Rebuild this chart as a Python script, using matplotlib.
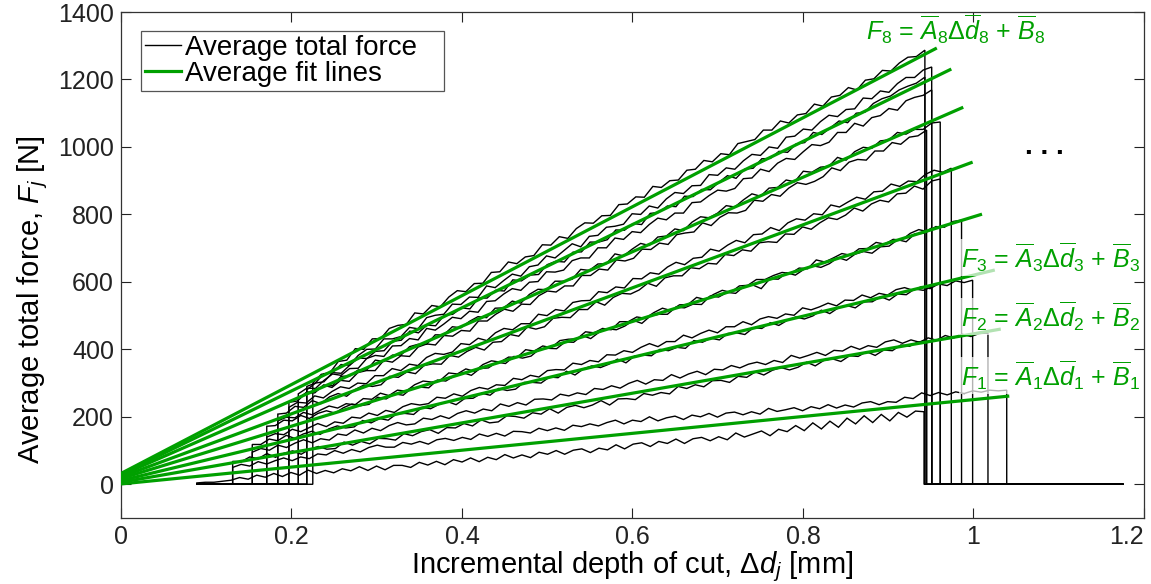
import numpy as np
import matplotlib
matplotlib.use("Agg")
import matplotlib.pyplot as plt
from matplotlib.ticker import FuncFormatter

plt.rcParams['font.family'] = ['Liberation Sans', 'DejaVu Sans']
plt.rcParams['mathtext.fontset'] = 'custom'
plt.rcParams['mathtext.rm'] = 'Liberation Sans'
plt.rcParams['mathtext.it'] = 'Liberation Sans:italic'
plt.rcParams['mathtext.bf'] = 'Liberation Sans:bold'

# ---------------------------------------------------------------- data
# recording window of the averaged force signal (mm)
record_start_mm = 0.089
record_end_mm = 1.175

# averaged total force per pass [N], sampled evenly between contact start and end
force_1b = [4, 6, 6, 9, 12, 20, 15, 27, 21, 32,
            23, 35, 27, 42, 32, 41, 34, 46, 40, 52,
            41, 54, 43, 56, 56, 50, 65, 57, 68, 58,
            73, 66, 78, 67, 80, 73, 88, 78, 87, 79,
            95, 89, 100, 89, 101, 105, 94, 107, 102, 117,
            105, 119, 123, 112, 127, 121, 134, 121, 135, 139,
            129, 141, 132, 152, 140, 149, 158, 144, 163, 156,
            174, 159, 182, 164, 187, 169, 196, 179, 203, 183,
            207, 188, 213, 199, 217, 215]
force_1a = [50, 59, 54, 67, 60, 70, 78, 70, 81, 76,
            90, 87, 100, 92, 103, 96, 109, 116, 110, 110,
            124, 119, 127, 119, 132, 136, 130, 139, 133, 149,
            142, 151, 143, 157, 156, 152, 166, 159, 167, 160,
            175, 171, 179, 173, 183, 190, 179, 190, 186, 200,
            188, 197, 202, 192, 205, 200, 210, 199, 211, 214,
            206, 215, 208, 225, 216, 221, 227, 218, 230, 224,
            236, 226, 235, 229, 241, 245, 236, 245, 243, 258,
            254, 271, 263, 272, 265, 274, 269, 277, 273, 279,
            277, 279]
force_2b = [68, 67, 81, 76, 91, 80, 92, 99, 89, 104,
            112, 104, 106, 125, 116, 127, 120, 136, 135, 131,
            150, 144, 156, 162, 151, 168, 167, 180, 173, 191,
            182, 185, 203, 201, 196, 212, 208, 224, 211, 228,
            234, 227, 235, 248, 235, 253, 254, 251, 269, 264,
            272, 268, 290, 284, 295, 289, 307, 308, 302, 320,
            317, 333, 324, 338, 346, 339, 347, 362, 351, 367,
            372, 364, 381, 379, 393, 382, 398, 396, 413, 409,
            422, 425]
force_2a = [95, 106, 101, 116, 109, 122, 132, 123, 135, 131,
            149, 145, 161, 152, 166, 159, 174, 183, 176, 179,
            196, 192, 203, 195, 210, 218, 211, 223, 218, 238,
            231, 242, 235, 252, 253, 250, 267, 262, 271, 266,
            284, 281, 292, 285, 299, 308, 297, 310, 308, 325,
            315, 327, 335, 325, 341, 339, 352, 345, 356, 362,
            355, 367, 361, 382, 374, 382, 391, 382, 397, 395,
            409, 400, 411, 406, 422, 428, 418, 428, 421, 434,
            427, 441, 434, 445, 438, 447, 448]
force_3b = [118, 118, 134, 129, 145, 136, 149, 157, 148, 164,
            173, 167, 170, 189, 182, 195, 190, 209, 210, 207,
            228, 224, 237, 245, 236, 254, 255, 270, 264, 284,
            278, 282, 302, 302, 300, 318, 316, 335, 324, 342,
            351, 346, 356, 371, 360, 380, 383, 381, 400, 396,
            406, 403, 426, 421, 433, 428, 447, 449, 444, 464,
            462, 479, 471, 486, 496, 490, 499, 516, 506, 523,
            530, 523, 541, 541, 556, 546, 564, 562, 579, 575,
            585]
force_3a = [140, 150, 147, 163, 156, 168, 180, 171, 185, 181,
            199, 196, 211, 204, 219, 213, 230, 239, 235, 239,
            258, 255, 268, 261, 278, 287, 282, 295, 293, 314,
            310, 323, 318, 337, 340, 339, 359, 355, 367, 363,
            384, 383, 396, 391, 406, 417, 408, 423, 423, 442,
            434, 447, 457, 449, 467, 467, 482, 473, 490, 497,
            492, 505, 501, 523, 517, 526, 537, 529, 546, 545,
            561, 553, 566, 561, 577, 583, 575, 586, 580, 594,
            589, 603, 598, 605]
force_4b = [172, 174, 190, 188, 204, 195, 210, 218, 211, 227,
            238, 233, 237, 258, 253, 268, 264, 285, 288, 286,
            309, 306, 321, 331, 323, 343, 345, 362, 358, 379,
            374, 380, 401, 403, 402, 422, 421, 441, 432, 451,
            461, 458, 469, 486, 477, 499, 504, 504, 525, 523,
            534, 533, 558, 555, 569, 566, 587, 591, 580, 609,
            608, 627, 620, 637, 648, 643, 654, 672, 664, 682,
            690, 685, 704, 706, 725, 719, 742, 744, 760]
force_4a = [188, 199, 197, 213, 206, 220, 232, 226, 239, 235,
            254, 252, 270, 263, 279, 276, 295, 306, 303, 308,
            330, 327, 342, 335, 355, 366, 362, 377, 376, 399,
            395, 410, 405, 426, 430, 431, 452, 449, 462, 458,
            482, 482, 496, 492, 509, 522, 515, 532, 533, 554,
            548, 563, 575, 569, 588, 590, 607, 607, 619, 628,
            625, 641, 639, 665, 659, 671, 684, 679, 698, 699,
            717, 712, 726, 724, 744, 755, 749, 764, 762, 779,
            783]
force_5b = [208, 211, 231, 228, 248, 239, 259, 269, 261, 281,
            294, 290, 295, 320, 317, 333, 328, 352, 357, 356,
            382, 377, 394, 406, 398, 421, 423, 444, 439, 466,
            460, 467, 492, 495, 494, 518, 518, 541, 531, 554,
            566, 564, 576, 596, 587, 612, 618, 618, 642, 639,
            655, 653, 681, 678, 695, 691, 716, 719, 717, 742,
            741, 763, 756, 775, 790, 785, 798, 819, 810, 831,
            842, 837, 861, 863, 884, 875, 899, 905]
force_5a = [228, 243, 241, 262, 256, 275, 289, 284, 300, 298,
            322, 322, 343, 337, 356, 352, 376, 388, 385, 392,
            417, 414, 433, 426, 449, 462, 458, 476, 476, 504,
            500, 518, 514, 539, 544, 545, 571, 568, 585, 582,
            610, 609, 627, 623, 644, 658, 651, 670, 673, 697,
            691, 709, 723, 716, 740, 742, 761, 752, 775, 787,
            783, 802, 799, 828, 822, 837, 851, 845, 867, 869,
            890, 883, 899, 897, 919, 931, 925, 937]
force_6b = [243, 247, 271, 271, 294, 287, 308, 305, 331, 337,
            337, 367, 362, 381, 379, 407, 416, 413, 441, 439,
            456, 454, 484, 484, 504, 519, 513, 534, 533, 559,
            573, 570, 588, 588, 619, 619, 638, 635, 665, 662,
            670, 697, 696, 715, 711, 740, 745, 748, 775, 767,
            791, 805, 804, 812, 842, 839, 859, 854, 878, 894,
            889, 898, 912, 938, 930, 955, 963, 961, 988, 988,
            1013, 1008, 1029, 1033, 1050]
force_6a = [255, 273, 275, 294, 292, 320, 321, 339, 339, 368,
            364, 383, 383, 408, 415, 415, 443, 443, 467, 464,
            483, 497, 494, 522, 523, 543, 537, 563, 578, 577,
            602, 602, 608, 637, 634, 653, 654, 683, 677, 697,
            714, 708, 733, 736, 757, 752, 777, 793, 790, 804,
            826, 822, 843, 861, 854, 878, 880, 902, 897, 928,
            925, 940, 943, 969, 961, 986, 999, 996, 1018, 1021,
            1043, 1038, 1052, 1052, 1071, 1074]
force_7b = [268, 285, 284, 308, 327, 323, 343, 344, 373, 382,
            379, 410, 411, 432, 428, 462, 457, 475, 495, 491,
            513, 510, 542, 544, 564, 580, 575, 599, 601, 630,
            629, 635, 663, 671, 671, 701, 701, 730, 726, 749,
            746, 770, 789, 784, 804, 804, 835, 837, 856, 872,
            869, 877, 906, 908, 934, 927, 952, 966, 963, 986,
            1007, 1004, 1014, 1043, 1043, 1070, 1062, 1087, 1093, 1114,
            1109, 1137, 1147, 1153, 1169]
force_7a = [280, 300, 304, 331, 329, 353, 374, 373, 394, 396,
            424, 427, 454, 449, 472, 470, 501, 504, 523, 520,
            552, 552, 575, 573, 606, 603, 620, 622, 651, 661,
            659, 688, 689, 718, 718, 725, 754, 753, 773, 770,
            803, 806, 825, 823, 854, 853, 874, 873, 895, 915,
            907, 934, 937, 965, 966, 987, 984, 1009, 1013, 1043,
            1037, 1057, 1077, 1072, 1100, 1103, 1129, 1143, 1151, 1169,
            1180, 1189, 1207]
force_8b = [290, 300, 328, 331, 355, 353, 382, 400, 401, 431,
            431, 438, 465, 461, 494, 501, 504, 534, 533, 555,
            554, 588, 583, 604, 623, 617, 645, 650, 677, 671,
            692, 713, 704, 735, 738, 762, 765, 771, 802, 800,
            825, 819, 846, 865, 862, 885, 886, 918, 916, 938,
            934, 959, 978, 975, 1000, 996, 1029, 1032, 1053, 1050,
            1075, 1094, 1090, 1111, 1113, 1145, 1143, 1166, 1162, 1188,
            1206, 1206, 1228, 1237]
force_8a = [300, 326, 330, 364, 368, 402, 400, 431, 432, 462,
            471, 474, 508, 505, 530, 526, 555, 574, 571, 595,
            596, 628, 630, 659, 654, 674, 678, 710, 709, 734,
            729, 758, 775, 774, 796, 797, 829, 831, 852, 851,
            883, 880, 900, 902, 931, 934, 960, 956, 980, 977,
            1010, 1016, 1022, 1050, 1050, 1077, 1071, 1095, 1099, 1127,
            1121, 1148, 1153, 1176, 1169, 1198, 1202, 1227, 1225, 1249,
            1266, 1268, 1287]

force_traces = [force_1b, force_1a, force_2b, force_2a, force_3b, force_3a,
                force_4b, force_4a, force_5b, force_5a, force_6b, force_6a,
                force_7b, force_7a, force_8b, force_8a]
trace_start_mm = [0.089, 0.131, 0.131, 0.154, 0.154, 0.171, 0.171, 0.184,
                  0.184, 0.197, 0.197, 0.208, 0.208, 0.218, 0.218, 0.225]
trace_end_mm = [0.942, 1.039, 0.945, 1.017, 0.951, 0.999, 0.951, 0.986,
                0.961, 0.974, 0.945, 0.961, 0.951, 0.943, 0.951, 0.943]

# averaged linear fits F_j = A_j * dd_j + B_j
fit_intercept = [1, 6, 11, 17, 22, 27, 30, 32]          # B_j [N]
fit_slope = [250, 440, 609, 776, 934, 1104, 1233, 1318]  # A_j [N/mm]
fit_end_mm = [1.042, 1.032, 1.025, 1.010, 0.999, 0.988, 0.974, 0.957]

x_ticks = [0, 0.2, 0.4, 0.6, 0.8, 1.0, 1.2]
y_ticks = [0, 200, 400, 600, 800, 1000, 1200, 1400]

# ---------------------------------------------------------------- figure
GREEN = '#00a000'
fig = plt.figure(figsize=(11.51, 5.84), dpi=100)
ax = fig.add_axes([0.1051, 0.113, 0.8888, 0.8664])

for vals, x0, x1 in zip(force_traces, trace_start_mm, trace_end_mm):
    xs = np.linspace(x0, x1, len(vals))
    px = np.concatenate([[record_start_mm, x0], xs, [x1, record_end_mm]])
    py = np.concatenate([[0, 0], vals, [0, 0]])
    ax.plot(px, py, color='black', lw=1.0, solid_joinstyle='miter', zorder=2)

for b, a, xe in zip(fit_intercept, fit_slope, fit_end_mm):
    xs = np.array([0.0, xe])
    ax.plot(xs, b + a * xs, color=GREEN, lw=2.3, solid_capstyle='butt', zorder=3)

ax.set_xlim(0, 1.2)
ax.set_ylim(-100, 1400)
ax.set_xticks(x_ticks)
ax.set_yticks(y_ticks)
ax.xaxis.set_major_formatter(FuncFormatter(lambda v, p: f'{v:g}'))
ax.tick_params(direction='in', length=7, width=0.8, top=True, right=True,
               labelsize=18, pad=5, colors='#222222')
ax.get_xticklabels()[-1].set_horizontalalignment('right')
for s in ax.spines.values():
    s.set_color('#333333')
    s.set_linewidth(0.9)

ax.set_xlabel(r'Incremental depth of cut, $\Delta d_j$ [mm]', fontsize=21, labelpad=0)
ax.set_ylabel(r'Average total force, $F_j$ [N]', fontsize=21)
ax.yaxis.set_label_coords(-0.069, 0.431)

# fit equations
eq_style = dict(color=GREEN, fontsize=18, va='center', ha='left', zorder=4)
ax.text(0.874, 1348, r'$F_8$ = $\overline{A}_8\Delta\overline{d}_8$ + $\overline{B}_8$', **eq_style)
box = dict(facecolor='white', alpha=0.7, edgecolor='none', pad=1)
ax.text(0.985, 672, r'$F_3$ = $\overline{A}_3\Delta\overline{d}_3$ + $\overline{B}_3$', bbox=box, **eq_style)
ax.text(0.985, 497, r'$F_2$ = $\overline{A}_2\Delta\overline{d}_2$ + $\overline{B}_2$', bbox=box, **eq_style)
ax.text(0.985, 322, r'$F_1$ = $\overline{A}_1\Delta\overline{d}_1$ + $\overline{B}_1$', bbox=box, **eq_style)
ax.text(1.083, 1000, '. . .', fontsize=20, fontweight='bold', ha='center', va='center')

handles = [plt.Line2D([], [], color='black', lw=1.0),
           plt.Line2D([], [], color=GREEN, lw=2.3)]
leg = ax.legend(handles, ['Average total force', 'Average fit lines'],
                loc='upper left', bbox_to_anchor=(0.0196, 0.0, 0.2962, 0.9625),
                mode='expand', borderaxespad=0,
                fontsize=20, handlelength=1.3, handletextpad=0.15, labelspacing=0.0,
                borderpad=0.15, fancybox=False, framealpha=1)
leg.get_frame().set_edgecolor('#555555')
leg.get_frame().set_linewidth(0.9)

fig.savefig('out.png', dpi=100)
